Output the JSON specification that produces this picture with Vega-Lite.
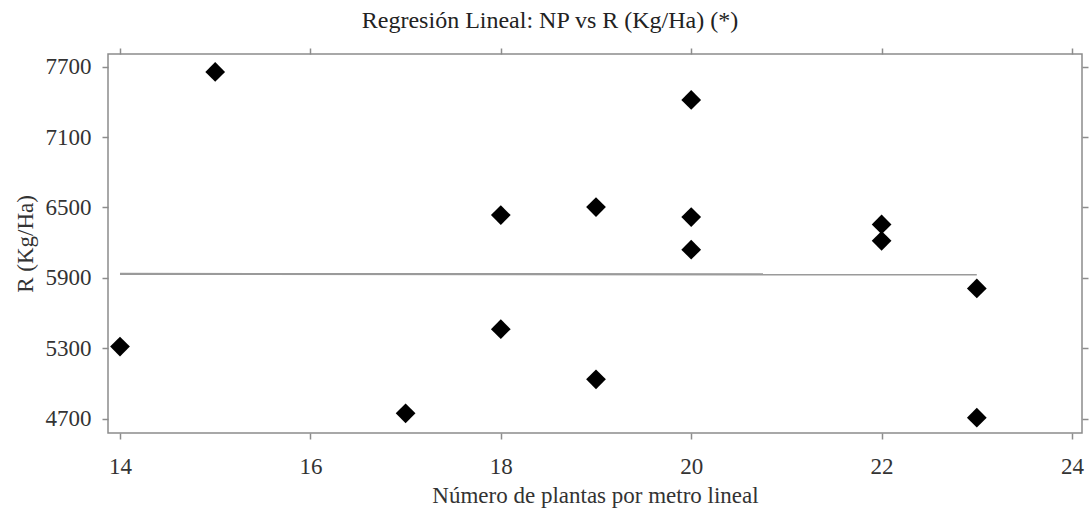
{
  "$schema": "https://vega.github.io/schema/vega-lite/v6.json",
  "autosize": "none",
  "width": 974,
  "height": 379,
  "padding": {"left": 108, "top": 54, "right": 7, "bottom": 80},
  "background": "white",
  "title": {
    "text": "Regresión Lineal: NP vs R (Kg/Ha) (*)",
    "font": "Liberation Serif",
    "fontSize": 24,
    "fontWeight": "normal",
    "color": "#222",
    "anchor": "middle",
    "dx": -45,
    "offset": 14
  },
  "config": {
    "view": {"stroke": "#8c8c8c", "strokeWidth": 1.5},
    "axis": {
      "grid": false,
      "domain": false,
      "tickColor": "#8c8c8c",
      "tickSize": 6,
      "tickWidth": 1.5,
      "labelFont": "Liberation Serif",
      "labelFontSize": 23,
      "labelColor": "#333",
      "titleFont": "Liberation Serif",
      "titleFontSize": 23,
      "titleFontWeight": "normal",
      "titleColor": "#333"
    }
  },
  "datasets": {
    "pts": [
      {"NP": 14, "R": 5314},
      {"NP": 15, "R": 7655},
      {"NP": 17, "R": 4745},
      {"NP": 18, "R": 6435},
      {"NP": 18, "R": 5462},
      {"NP": 19, "R": 6503},
      {"NP": 19, "R": 5035},
      {"NP": 20, "R": 7416},
      {"NP": 20, "R": 6418},
      {"NP": 20, "R": 6140},
      {"NP": 22, "R": 6355},
      {"NP": 22, "R": 6215},
      {"NP": 23, "R": 5809},
      {"NP": 23, "R": 4708}
    ],
    "fit": [
      {"NP": 14, "R": 5933},
      {"NP": 23, "R": 5929}
    ]
  },
  "resolve": {"axis": {"x": "independent", "y": "independent"}},
  "layer": [
    {
      "data": {"name": "fit"},
      "mark": {"type": "line", "color": "#9a9a9a", "strokeWidth": 2.2},
      "encoding": {
        "x": {"field": "NP", "type": "quantitative",
              "scale": {"domain": [13.874, 24.105], "nice": false, "zero": false},
              "axis": {"orient": "top", "labels": false, "title": null, "values": [14, 16, 18, 20, 22, 24]}},
        "y": {"field": "R", "type": "quantitative",
              "scale": {"domain": [4577, 7808], "nice": false, "zero": false},
              "axis": {"orient": "right", "labels": false, "title": null, "values": [4700, 5300, 5900, 6500, 7100, 7700]}}
      }
    },
    {
      "data": {"name": "pts"},
      "mark": {"type": "point", "shape": "diamond", "filled": true, "color": "black", "size": 390, "opacity": 1},
      "encoding": {
        "x": {"field": "NP", "type": "quantitative",
              "scale": {"domain": [13.874, 24.105], "nice": false, "zero": false},
              "axis": {"orient": "bottom", "title": "Número de plantas por metro lineal", "values": [14, 16, 18, 20, 22, 24], "format": "d", "labelPadding": 16, "titlePadding": 6}},
        "y": {"field": "R", "type": "quantitative",
              "scale": {"domain": [4577, 7808], "nice": false, "zero": false},
              "axis": {"orient": "left", "title": "R (Kg/Ha)", "values": [4700, 5300, 5900, 6500, 7100, 7700], "format": "d", "labelPadding": 11, "titlePadding": 8}}
      }
    }
  ]
}
